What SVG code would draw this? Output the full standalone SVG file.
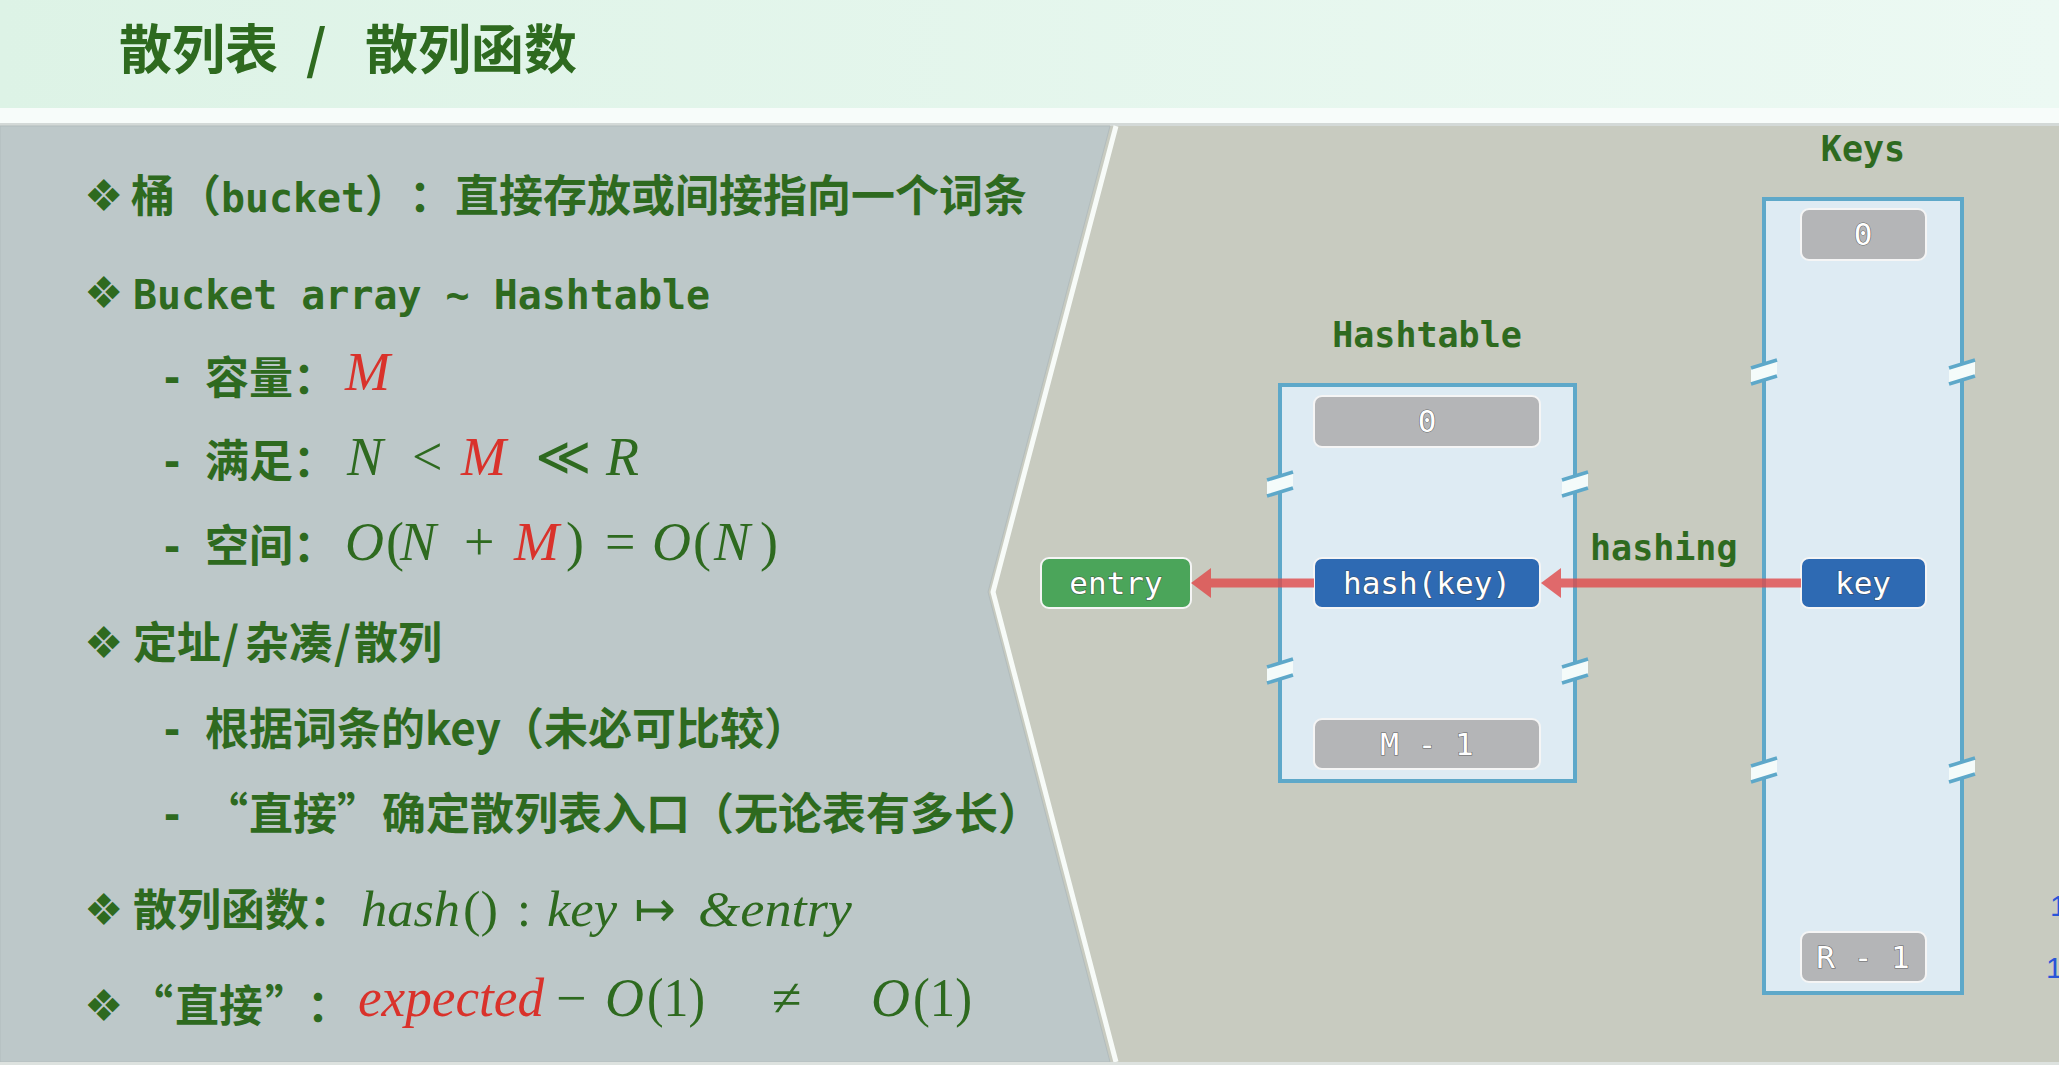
<svg xmlns="http://www.w3.org/2000/svg" width="2059" height="1080" viewBox="0 0 2059 1080">
<style>
.cjk{font-family:"Noto Sans CJK SC","Noto Sans CJK TC",sans-serif;font-weight:700;fill:#2e6a1f;font-size:44px}
.ttl{font-size:53px}
.mono{font-family:"DejaVu Sans Mono","Liberation Mono",monospace;font-weight:700;fill:#2e6a1f;font-size:40px}
.math{font-family:"Liberation Serif","DejaVu Serif",serif;font-style:italic;fill:#2e6a1f;font-size:54px}
.m50{font-size:50px}
.up{font-style:normal}
.red{fill:#d9322b}
.sym{font-family:"DejaVu Sans",sans-serif;font-style:normal}
.bul{font-family:"DejaVu Sans",sans-serif;fill:#2e6a1f;font-size:44px}
.box{fill:#deebf3;stroke:#5ea8c9;stroke-width:4}
.cg{fill:#b4b5b7;stroke:#f5f5f5;stroke-width:2}
.cb{fill:#2e6ab3;stroke:#f5f5f5;stroke-width:2}
.cgr{fill:#4ba55a;stroke:#f5f5f5;stroke-width:2}
.ct{font-family:"DejaVu Sans Mono","Liberation Mono",monospace;font-size:31px;fill:#fff;stroke:#3a3a3a;stroke-width:1.2;stroke-opacity:.7;paint-order:stroke;text-anchor:middle}
.lbl{font-family:"DejaVu Sans Mono","Liberation Mono",monospace;font-weight:700;font-size:35px;fill:#2e6a1f}
.bw{fill:#f4fbfa}
.bl{stroke:#5ea8c9;stroke-width:3.5;fill:none}
.arr{stroke:#e04848;stroke-width:9;stroke-opacity:.8;fill:none}
.frag{font-family:"Liberation Sans",sans-serif;font-size:30px;fill:#2a55d8}
</style>
<defs>
<linearGradient id="hdr" x1="0" y1="0" x2="1" y2="0">
<stop offset="0" stop-color="#ddf3e6"/>
<stop offset="1" stop-color="#ecf9f3"/>
</linearGradient>
<marker id="ah" viewBox="0 0 20 30" refX="0" refY="15" markerWidth="20" markerHeight="30" markerUnits="userSpaceOnUse" orient="auto">
<path d="M0,0 L20,15 L0,30 z" fill="#e04848" fill-opacity=".8"/>
</marker>
</defs>

<g id="background">
<rect x="0" y="0" width="2059" height="1080" fill="#ffffff"/>
<rect x="0" y="0" width="2059" height="108" fill="url(#hdr)"/>
<rect x="0" y="108" width="2059" height="15" fill="#f7fcfa"/>
<rect x="0" y="123" width="2059" height="3" fill="#d3d9d7"/>
<rect x="0" y="126" width="2059" height="936" fill="#c8cbc0"/>
<polygon points="0,126 1110,126 988,592 1110,1062 0,1062" fill="#bdc8c9" stroke="#b2bcbd" stroke-width="1"/>
<polyline points="1116,126 993,592 1116,1062" fill="none" stroke="#f7fbf8" stroke-width="5"/>
<rect x="0" y="1062" width="2059" height="3" fill="#dde2df"/>
</g>

<g id="title">
<text class="cjk ttl" x="119" y="69">散列表</text>
<text class="cjk ttl" x="306" y="69">/</text>
<text class="cjk ttl" x="365" y="69">散列函数</text>
</g>

<g id="left-text">
<text class="bul" x="84" y="211">❖</text>
<text class="cjk" x="131" y="212">桶</text>
<text class="cjk" x="177" y="212">（</text>
<text class="mono" x="221" y="212" textLength="144" lengthAdjust="spacingAndGlyphs">bucket</text>
<text class="cjk" x="365" y="212">）</text>
<text class="cjk" x="409" y="212">：</text>
<text class="cjk" x="455" y="212">直接存放或间接指向一个词条</text>

<text class="bul" x="84" y="308">❖</text>
<text class="mono" x="133" y="309" textLength="577" lengthAdjust="spacingAndGlyphs">Bucket array ~ Hashtable</text>

<text class="mono" x="160" y="392">-</text>
<text class="cjk" x="205" y="394">容量</text>
<text class="cjk" x="293" y="394">：</text>
<text class="math red" x="345" y="390">M</text>

<text class="mono" x="160" y="476">-</text>
<text class="cjk" x="205" y="477">满足</text>
<text class="cjk" x="293" y="477">：</text>
<text class="math" x="347" y="475">N</text>
<text class="math up" x="412" y="475">&lt;</text>
<text class="math red" x="461" y="475">M</text>
<text class="math sym" x="535" y="475" style="font-size:54px">≪</text>
<text class="math" x="606" y="475">R</text>

<text class="mono" x="160" y="561">-</text>
<text class="cjk" x="205" y="562">空间</text>
<text class="cjk" x="293" y="562">：</text>
<text class="math" x="345" y="560">O</text>
<text class="math up" x="386" y="560">(</text>
<text class="math" x="400" y="560">N</text>
<text class="math up" x="464" y="560">+</text>
<text class="math red" x="514" y="560">M</text>
<text class="math up" x="566" y="560">)</text>
<text class="math up" x="605" y="560">=</text>
<text class="math" x="652" y="560">O</text>
<text class="math up" x="693" y="560">(</text>
<text class="math" x="714" y="560">N</text>
<text class="math up" x="760" y="560">)</text>

<text class="bul" x="84" y="658">❖</text>
<text class="cjk" x="133" y="659">定址</text>
<text class="cjk" x="222" y="659">/</text>
<text class="cjk" x="245" y="659">杂凑</text>
<text class="cjk" x="334" y="659">/</text>
<text class="cjk" x="354" y="659">散列</text>

<text class="mono" x="160" y="744">-</text>
<text class="cjk" x="205" y="745">根据词条的key</text>
<text class="cjk" x="500" y="745">（未必可比较）</text>

<text class="mono" x="160" y="829">-</text>
<text class="cjk" x="248" y="830" text-anchor="end">“</text>
<text class="cjk" x="249" y="830">直接</text>
<text class="cjk" x="337" y="830">”</text>
<text class="cjk" x="382" y="830">确定散列表入口（无论表有多长）</text>

<text class="bul" x="84" y="925">❖</text>
<text class="cjk" x="133" y="926">散列函数</text>
<text class="cjk" x="309" y="926">：</text>
<text class="math m50" x="361" y="926" textLength="99" lengthAdjust="spacingAndGlyphs">hash</text>
<text class="math up m50" x="463" y="926" textLength="35" lengthAdjust="spacingAndGlyphs">()</text>
<text class="math up m50" x="517" y="926">:</text>
<text class="math m50" x="547" y="926" textLength="70" lengthAdjust="spacingAndGlyphs">key</text>
<text class="math sym" x="634" y="926" style="font-size:50px">↦</text>
<text class="math m50" x="698" y="926" textLength="154" lengthAdjust="spacingAndGlyphs">&amp;entry</text>

<text class="bul" x="84" y="1021">❖</text>
<text class="cjk" x="173" y="1022" text-anchor="end">“</text>
<text class="cjk" x="175" y="1022">直接</text>
<text class="cjk" x="265" y="1022">”</text>
<text class="cjk" x="307" y="1022">：</text>
<text class="math red" x="358" y="1016" textLength="186" lengthAdjust="spacingAndGlyphs">expected</text>
<text class="math up" x="556" y="1016">−</text>
<text class="math" x="605" y="1016">O</text>
<text class="math up" x="647" y="1016" textLength="58" lengthAdjust="spacingAndGlyphs">(1)</text>
<text class="math up" x="772" y="1016">≠</text>
<text class="math" x="871" y="1016">O</text>
<text class="math up" x="913" y="1016" textLength="59" lengthAdjust="spacingAndGlyphs">(1)</text>
</g>

<g id="hashtable">
<text class="lbl" x="1427" y="347" text-anchor="middle">Hashtable</text>
<rect class="box" x="1280" y="385" width="295" height="396"/>
<polygon class="bw" points="1267,480 1293,472 1293,488 1267,496"/>
<line class="bl" x1="1267" y1="480" x2="1293" y2="472"/><line class="bl" x1="1267" y1="496" x2="1293" y2="488"/>
<polygon class="bw" points="1267,667 1293,659 1293,675 1267,683"/>
<line class="bl" x1="1267" y1="667" x2="1293" y2="659"/><line class="bl" x1="1267" y1="683" x2="1293" y2="675"/>
<polygon class="bw" points="1562,480 1588,472 1588,488 1562,496"/>
<line class="bl" x1="1562" y1="480" x2="1588" y2="472"/><line class="bl" x1="1562" y1="496" x2="1588" y2="488"/>
<polygon class="bw" points="1562,667 1588,659 1588,675 1562,683"/>
<line class="bl" x1="1562" y1="667" x2="1588" y2="659"/><line class="bl" x1="1562" y1="683" x2="1588" y2="675"/>
</g>
<g id="cell-h0"><rect class="cg" x="1314" y="396" width="226" height="51" rx="8"/><text class="ct" x="1427" y="432">0</text></g>
<g id="cell-hashkey"><rect class="cb" x="1314" y="558" width="226" height="50" rx="8"/><text class="ct" x="1427" y="594">hash(key)</text></g>
<g id="cell-hm1"><rect class="cg" x="1314" y="719" width="226" height="50" rx="8"/><text class="ct" x="1427" y="755">M - 1</text></g>

<g id="keys">
<text class="lbl" x="1863" y="161" text-anchor="middle">Keys</text>
<rect class="box" x="1764" y="199" width="198" height="794"/>
<polygon class="bw" points="1751,368 1777,360 1777,376 1751,384"/>
<line class="bl" x1="1751" y1="368" x2="1777" y2="360"/><line class="bl" x1="1751" y1="384" x2="1777" y2="376"/>
<polygon class="bw" points="1751,766 1777,758 1777,774 1751,782"/>
<line class="bl" x1="1751" y1="766" x2="1777" y2="758"/><line class="bl" x1="1751" y1="782" x2="1777" y2="774"/>
<polygon class="bw" points="1949,368 1975,360 1975,376 1949,384"/>
<line class="bl" x1="1949" y1="368" x2="1975" y2="360"/><line class="bl" x1="1949" y1="384" x2="1975" y2="376"/>
<polygon class="bw" points="1949,766 1975,758 1975,774 1949,782"/>
<line class="bl" x1="1949" y1="766" x2="1975" y2="758"/><line class="bl" x1="1949" y1="782" x2="1975" y2="774"/>
</g>
<g id="cell-k0"><rect class="cg" x="1801" y="209" width="125" height="51" rx="8"/><text class="ct" x="1863" y="245">0</text></g>
<g id="cell-key"><rect class="cb" x="1801" y="558" width="125" height="50" rx="8"/><text class="ct" x="1863" y="594">key</text></g>
<g id="cell-rm1"><rect class="cg" x="1801" y="932" width="125" height="50" rx="8"/><text class="ct" x="1863" y="968">R - 1</text></g>

<g id="entry"><rect class="cgr" x="1041" y="558" width="150" height="50" rx="8"/><text class="ct" x="1116" y="594">entry</text></g>

<g id="connectors">
<line class="arr" x1="1801" y1="583" x2="1561" y2="583" marker-end="url(#ah)"/>
<line class="arr" x1="1314" y1="583" x2="1211" y2="583" marker-end="url(#ah)"/>
<text class="lbl" x="1590" y="560">hashing</text>
</g>

<g id="edge-fragments">
<text class="frag" x="2050" y="916">1</text>
<text class="frag" x="2046" y="978">1</text>
</g>
</svg>
